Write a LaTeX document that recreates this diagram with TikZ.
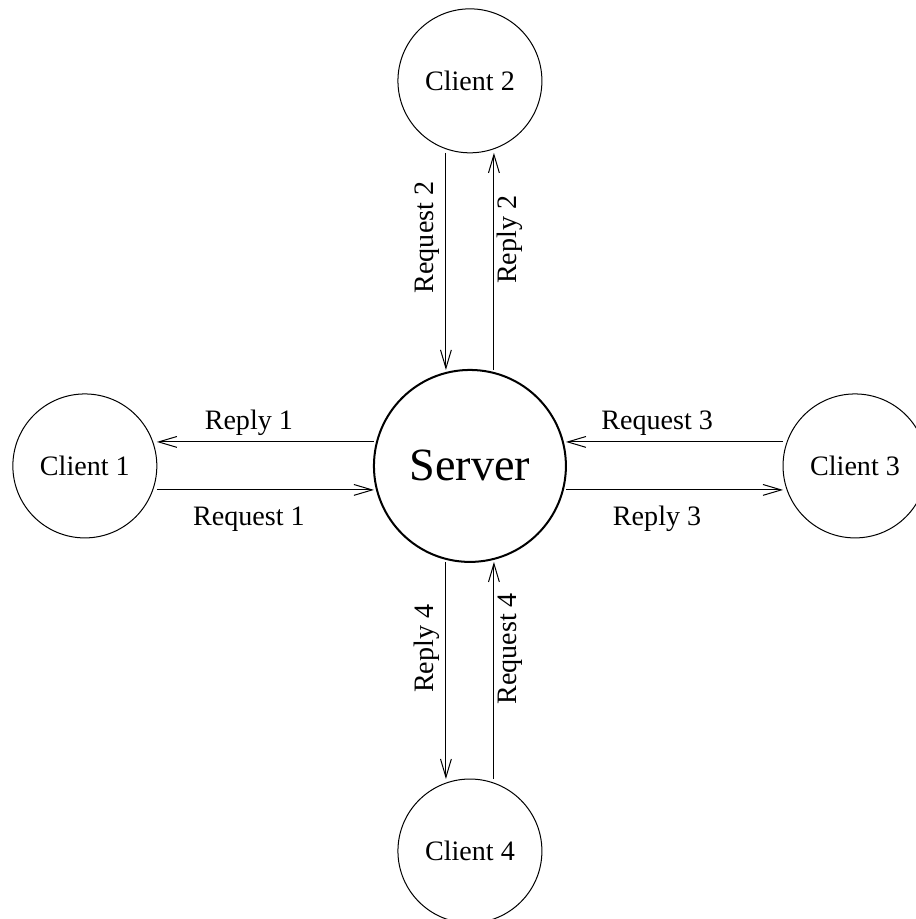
\documentclass[tikz,border=0pt]{standalone}
\usepackage{fontspec}
\setmainfont{Liberation Serif}
\usetikzlibrary{positioning,arrows.meta}

\tikzset{
  clientnode/.style={draw,circle,line width=0.5pt,minimum size=2.52cm,inner sep=0pt,outer sep=0pt,font=\fontsize{14}{16}\selectfont},
  servernode/.style={draw,circle,line width=1pt,minimum size=3.36cm,inner sep=0pt,outer sep=0pt,font=\fontsize{23}{26}\selectfont},
  msg/.style={-{Straight Barb[length=3.2mm,width=1.9mm]},line width=0.5pt},
  tag/.style={font=\fontsize{14}{16}\selectfont,anchor=base,inner sep=0pt},
  tagup/.style={tag,yshift=0.21cm},
  tagdown/.style={tag,yshift=-0.63cm},
  tagleft/.style={tag,xshift=-0.21cm,rotate=90},
  tagright/.style={tag,xshift=0.40cm,rotate=90},
}

\begin{document}
\begin{tikzpicture}[node distance=3.8cm]
\useasboundingbox (-8.225,-7.93) rectangle (7.79,8.155);

\node[servernode] (server) at (0,0) {Server};
\node[clientnode,left=of server] (client1) {Client 1};
\node[clientnode,above=of server] (client2) {Client 2};
\node[clientnode,right=of server] (client3) {Client 3};
\node[clientnode,below=of server] (client4) {Client 4};

% client 1
\draw[msg] ([yshift=0.42cm]server.west) -- ([yshift=0.42cm]client1.east)
  node[tagup,pos=0.576] {Reply 1};
\draw[msg] ([yshift=-0.42cm]client1.east) -- ([yshift=-0.42cm]server.west)
  node[tagdown,pos=0.424] {Request 1};
% client 2
\draw[msg] ([xshift=-0.42cm]client2.south) -- ([xshift=-0.42cm]server.north)
  node[tagleft,pos=0.39] {Request 2};
\draw[msg] ([xshift=0.42cm]server.north) -- ([xshift=0.42cm]client2.south)
  node[tagright,pos=0.6] {Reply 2};
% client 3
\draw[msg] ([yshift=0.42cm]client3.west) -- ([yshift=0.42cm]server.east)
  node[tagup,pos=0.58] {Request 3};
\draw[msg] ([yshift=-0.42cm]server.east) -- ([yshift=-0.42cm]client3.west)
  node[tagdown,pos=0.42] {Reply 3};
% client 4
\draw[msg] ([xshift=-0.42cm]server.south) -- ([xshift=-0.42cm]client4.north)
  node[tagleft,pos=0.4] {Reply 4};
\draw[msg] ([xshift=0.42cm]client4.north) -- ([xshift=0.42cm]server.south)
  node[tagright,pos=0.6] {Request 4};
\end{tikzpicture}
\end{document}
